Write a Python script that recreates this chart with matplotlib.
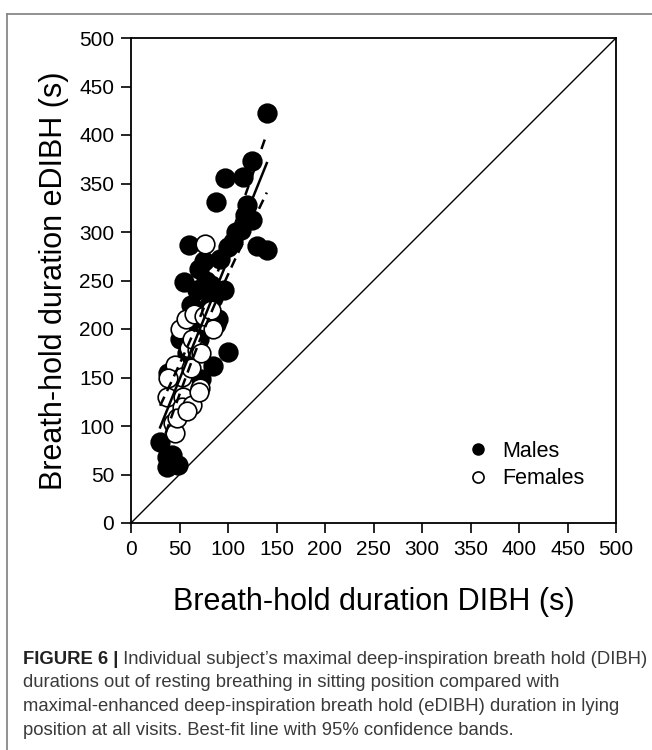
import numpy as np
import matplotlib
matplotlib.use("Agg")
import matplotlib.pyplot as plt
from matplotlib.lines import Line2D

plt.rcParams['font.family'] = ['Liberation Sans', 'DejaVu Sans']

# Breath-hold durations (s): DIBH sitting (x) vs eDIBH lying (y)
males_dibh = [140, 125, 115, 97, 88, 120, 118, 125, 113, 130, 140, 100, 60, 92,
              70, 55, 77, 68, 96, 85, 80, 62, 88, 100, 85, 70, 60, 72, 38, 30,
              37, 37, 48, 42, 108, 105, 75, 58, 65, 82, 90, 50]
males_edibh = [423, 373, 357, 356, 331, 328, 318, 312, 302, 286, 281, 285, 287, 272,
               262, 248, 250, 240, 240, 232, 225, 225, 205, 176, 162, 190, 195, 148, 155, 84,
               68, 58, 60, 70, 300, 290, 270, 175, 210, 245, 210, 190]

females_dibh = [76, 50, 57, 65, 75, 82, 85, 60, 68, 63, 45, 53, 38, 62, 37, 54,
                53, 63, 71, 70, 43, 45, 47, 58, 72]
females_edibh = [288, 200, 210, 215, 213, 220, 200, 180, 178, 190, 163, 151, 149, 160, 130, 130,
                 120, 122, 139, 135, 103, 93, 108, 115, 175]

axis_ticks = [0, 50, 100, 150, 200, 250, 300, 350, 400, 450, 500]

caption_head = "FIGURE 6 |"
caption_lines = [
    " Individual subject\u2019s maximal deep-inspiration breath hold (DIBH)",
    "durations out of resting breathing in sitting position compared with",
    "maximal-enhanced deep-inspiration breath hold (eDIBH) duration in lying",
    "position at all visits. Best-fit line with 95% confidence bands.",
]

W, H = 652, 750
fig = plt.figure(figsize=(W / 100, H / 100), dpi=100)

def fx(px):
    return px / W

def fy(py):
    return 1 - py / H

ax = fig.add_axes([fx(131), fy(523), fx(616) - fx(131), fy(38) - fy(523)])

# line of identity
ax.plot([0, 500], [0, 500], color='black', lw=1.0, zorder=1)

# pooled best-fit line with 95% confidence bands
x_all = np.array(males_dibh + females_dibh, dtype=float)
y_all = np.array(males_edibh + females_edibh, dtype=float)
n = len(x_all)
slope, intercept = np.polyfit(x_all, y_all, 1)
resid = y_all - (slope * x_all + intercept)
s = np.sqrt(np.sum(resid ** 2) / (n - 2))
xbar = x_all.mean()
sxx = np.sum((x_all - xbar) ** 2)
t_crit = 1.995
xs = np.linspace(x_all.min(), x_all.max(), 100)
yfit = slope * xs + intercept
half = t_crit * s * np.sqrt(1 / n + (xs - xbar) ** 2 / sxx)

ax.scatter(males_dibh, males_edibh, s=180, facecolor='black', edgecolor='black',
           linewidth=1.2, zorder=3)
ax.scatter(females_dibh, females_edibh, s=180, facecolor='white', edgecolor='black',
           linewidth=1.2, zorder=4)

ax.plot(xs, yfit, color='black', lw=1.8, zorder=5)
ax.plot(xs, yfit + half, color='black', lw=1.8, ls=(0, (4, 2.5)), zorder=5)
ax.plot(xs, yfit - half, color='black', lw=1.8, ls=(0, (4, 2.5)), zorder=5)

ax.set_xlim(0, 500)
ax.set_ylim(0, 500)
ax.set_xticks(axis_ticks)
ax.set_yticks(axis_ticks)
ax.tick_params(axis='both', direction='out', length=7, width=1.2, labelsize=15,
               pad=5, colors='black')
for sp in ax.spines.values():
    sp.set_linewidth(1.3)

ax.set_xlabel("Breath-hold duration DIBH (s)", fontsize=22)
ax.set_ylabel("Breath-hold duration eDIBH (s)", fontsize=22)
ax.xaxis.set_label_coords(0.5, -0.132)
ax.yaxis.set_label_coords(-0.128, 0.5)

handles = [
    Line2D([], [], marker='o', ls='none', markersize=8, markerfacecolor='black',
           markeredgecolor='black', label='Males'),
    Line2D([], [], marker='o', ls='none', markersize=8, markerfacecolor='white',
           markeredgecolor='black', markeredgewidth=1.2, label='Females'),
]
ax.legend(handles=handles, loc='upper left', bbox_to_anchor=(0.672, 0.192),
          frameon=False, fontsize=15.5, handletextpad=0.6, handlelength=1.0,
          borderpad=0, labelspacing=0.3)

# figure frame (left and top edges)
fig.add_artist(Line2D([fx(7), fx(7)], [fy(14), 0], color='#888888', lw=1.3,
                      transform=fig.transFigure))
fig.add_artist(Line2D([fx(7), 1], [fy(14), fy(14)], color='#888888', lw=1.3,
                      transform=fig.transFigure))

# caption
cap_size = 13.3
head = fig.text(fx(23), fy(659), caption_head, fontsize=cap_size, fontweight='bold',
                color='#222222', va='center', ha='left')
fig.canvas.draw()
bb = head.get_window_extent(renderer=fig.canvas.get_renderer())
fig.text(bb.x1 / fig.bbox.width, fy(659), caption_lines[0], fontsize=cap_size,
         color='#3a3a3a', va='center', ha='left')
for i, line in enumerate(caption_lines[1:], start=1):
    fig.text(fx(23), fy(659 + 23.7 * i), line, fontsize=cap_size, color='#3a3a3a',
             va='center', ha='left')

fig.savefig("out.png", dpi=100)
